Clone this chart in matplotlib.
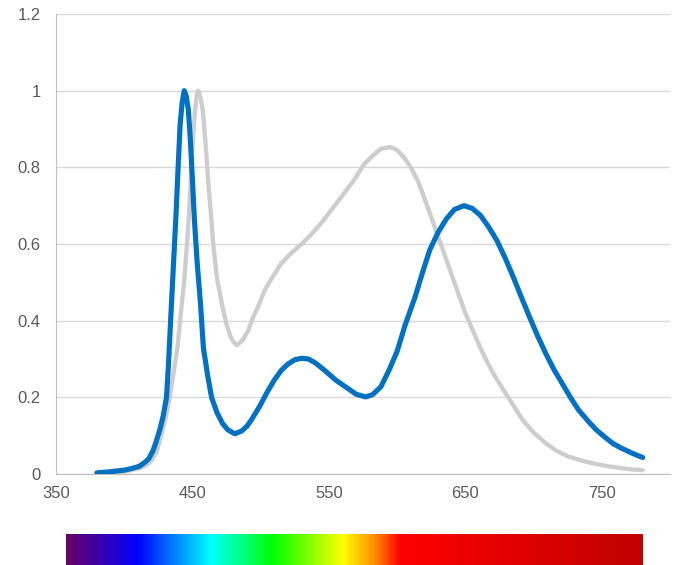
import numpy as np
import matplotlib
matplotlib.use("Agg")
import matplotlib.pyplot as plt
import matplotlib.ticker as ticker
from matplotlib.colors import LinearSegmentedColormap

# LED spectrum (blue line)
wl_led = [380, 390, 400, 405, 411, 415, 418, 421, 423, 426, 428.5, 431, 432.5, 434, 436, 438,
          439.5, 441, 442.5, 444, 445.5, 447, 448.5, 450, 451.5, 453.5, 456, 458, 461, 464,
          468, 472, 476, 481, 486, 490, 493, 499, 505, 510, 515, 520, 525, 530, 535, 540,
          547, 555, 564, 570, 577, 582, 588, 594, 600, 606, 613, 619, 624, 630, 636, 642,
          649, 655, 661, 667, 673, 679, 685, 691, 697, 703, 709, 715, 721, 727, 733, 740,
          746, 752, 758, 764, 770, 775, 780]
led = [0.003, 0.006, 0.01, 0.014, 0.02, 0.03, 0.04, 0.06, 0.08, 0.115, 0.15, 0.2, 0.29, 0.4, 0.54, 0.68,
       0.8, 0.913, 0.97, 1.0, 0.985, 0.95, 0.87, 0.766, 0.66, 0.55, 0.44, 0.33, 0.26, 0.2,
       0.16, 0.132, 0.115, 0.105, 0.112, 0.125, 0.14, 0.175, 0.215, 0.245, 0.27, 0.287, 0.298, 0.302, 0.3, 0.29,
       0.27, 0.245, 0.223, 0.208, 0.201, 0.207, 0.227, 0.27, 0.32, 0.39, 0.46, 0.53, 0.585, 0.63, 0.665, 0.69,
       0.70, 0.693, 0.675, 0.645, 0.61, 0.565, 0.515, 0.462, 0.41, 0.36, 0.314, 0.272, 0.236, 0.2, 0.167, 0.138,
       0.115, 0.097, 0.08, 0.068, 0.058, 0.05, 0.043]

# reference spectrum (gray line)
wl_ref = [380, 390, 400, 411, 416, 420, 424, 427, 430, 433, 436, 439, 441.5, 444, 446, 447.5,
          449, 450, 451, 452, 453, 454, 455, 456, 457.5, 459, 460.5, 461.5, 463.5, 465.5, 468, 472,
          475, 478, 480, 482.5, 485, 487, 491, 494, 498, 503, 508, 515, 522, 530, 537, 544,
          551, 559, 568, 576, 582, 588, 595, 600, 605, 610, 615, 620, 624, 629, 634, 639,
          644, 650, 656, 663, 670, 678, 685, 692, 700, 709, 717, 726, 735, 746, 755, 765,
          772, 780]
ref = [0.0, 0.003, 0.006, 0.015, 0.022, 0.035, 0.06, 0.1, 0.14, 0.193, 0.26, 0.33, 0.42, 0.505, 0.6, 0.68,
       0.78, 0.85, 0.91, 0.95, 0.985, 1.0, 0.995, 0.98, 0.95, 0.89, 0.82, 0.766, 0.68, 0.59, 0.51, 0.436,
       0.39, 0.358, 0.345, 0.336, 0.343, 0.35, 0.375, 0.405, 0.436, 0.48, 0.51, 0.549, 0.575, 0.60, 0.625, 0.653,
       0.685, 0.722, 0.765, 0.809, 0.83, 0.848, 0.853, 0.845, 0.826, 0.8, 0.766, 0.72, 0.68, 0.63, 0.58, 0.53,
       0.479, 0.42, 0.37, 0.314, 0.265, 0.219, 0.18, 0.141, 0.108, 0.08, 0.06, 0.045, 0.035, 0.026, 0.02, 0.015,
       0.012, 0.01]

# colour stops for the spectrum strip
strip_pos = [0.0, 0.1225, 0.25, 0.359, 0.48, 0.54, 0.58, 1.0]
strip_col = ["#660066", "#0000ff", "#00ffff", "#00ff00", "#ffff00", "#ff8000", "#ff0000", "#c00000"]

plt.rcParams["font.family"] = ["Liberation Sans", "DejaVu Sans"]

fig = plt.figure(figsize=(6.74, 5.65), dpi=100)
ax = fig.add_axes([56 / 674, 91 / 565, 614 / 674, 460 / 565])

ax.plot(wl_ref, ref, color="#cdcdcd", lw=3.1, solid_capstyle="round",
        solid_joinstyle="round", zorder=3)
ax.plot(wl_led, led, color="#0070c0", lw=3.7, solid_capstyle="round",
        solid_joinstyle="round", zorder=4)

ax.set_xlim(350, 800)
ax.set_ylim(0, 1.2)
ax.set_xticks([350, 450, 550, 650, 750])
ax.set_yticks(np.arange(0, 1.21, 0.2))
ax.yaxis.set_major_formatter(ticker.FuncFormatter(lambda v, p: f"{v:g}"))
ax.grid(axis="y", color="#d9d9d9", lw=1)
ax.set_axisbelow(True)
for s in ["top", "right"]:
    ax.spines[s].set_visible(False)
for s in ["left", "bottom"]:
    ax.spines[s].set_color("#bfbfbf")
ax.tick_params(length=0, labelsize=12, labelcolor="#595959")
ax.tick_params(axis="y", pad=11)
ax.tick_params(axis="x", pad=9)

cmap = LinearSegmentedColormap.from_list("spec", list(zip(strip_pos, strip_col)))
sax = fig.add_axes([66 / 674, 0, 577 / 674, 31 / 565])
sax.imshow(np.linspace(0, 1, 600)[None, :], cmap=cmap, aspect="auto")
sax.axis("off")

fig.savefig("out.png", dpi=100)
